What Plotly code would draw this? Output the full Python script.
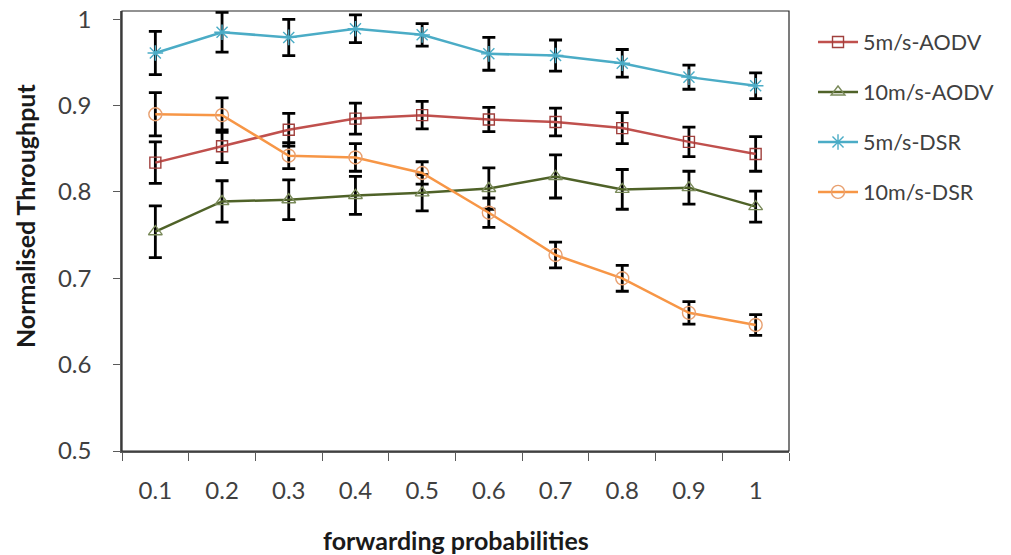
import plotly.graph_objects as go

# Forwarding probability categories
probs = ["0.1", "0.2", "0.3", "0.4", "0.5", "0.6", "0.7", "0.8", "0.9", "1"]

# Normalised throughput per series, with error-bar half widths
aodv5 = [0.834, 0.853, 0.872, 0.885, 0.889, 0.884, 0.881, 0.874, 0.858, 0.844]
aodv5_err = [0.024, 0.019, 0.019, 0.018, 0.016, 0.014, 0.016, 0.018, 0.017, 0.020]

aodv10 = [0.754, 0.789, 0.791, 0.796, 0.799, 0.804, 0.818, 0.803, 0.805, 0.783]
aodv10_err = [0.030, 0.024, 0.023, 0.022, 0.021, 0.024, 0.025, 0.023, 0.019, 0.018]

dsr5 = [0.961, 0.985, 0.979, 0.989, 0.982, 0.960, 0.958, 0.949, 0.933, 0.923]
dsr5_err = [0.025, 0.023, 0.021, 0.016, 0.013, 0.019, 0.018, 0.016, 0.014, 0.015]

dsr10 = [0.890, 0.889, 0.842, 0.840, 0.822, 0.776, 0.727, 0.700, 0.660, 0.646]
dsr10_err = [0.025, 0.020, 0.015, 0.016, 0.013, 0.017, 0.015, 0.015, 0.013, 0.012]

y_ticks = [0.5, 0.6, 0.7, 0.8, 0.9, 1.0]
y_tick_text = ["0.5", "0.6", "0.7", "0.8", "0.9", "1"]

FONT = "Lato, 'Open Sans', sans-serif"
TEXT = "#404040"
AXIS = "#5a5a5a"

series = [
    ("5m/s-AODV", aodv5, aodv5_err, "#C0504D", "#A0403D", "square-open", 11),
    ("10m/s-AODV", aodv10, aodv10_err, "#4F6228", "#7A8A5A", "triangle-up-open", 12),
    ("5m/s-DSR", dsr5, dsr5_err, "#4BACC6", "#4BACC6", "asterisk-open", 13),
    ("10m/s-DSR", dsr10, dsr10_err, "#F79646", "#E8A070", "circle-open", 13),
]

fig = go.Figure()
for i, (name, vals, errs, line_col, mk_col, symbol, size) in enumerate(series):
    fig.add_trace(go.Scatter(
        x=probs,
        y=vals,
        name=name,
        mode="lines+markers",
        legendgroup=f"g{i}",
        line=dict(color=line_col, width=2.5),
        marker=dict(symbol=symbol, size=size, color=mk_col,
                    line=dict(color=mk_col, width=1.4)),
        error_y=dict(type="data", array=errs, visible=True,
                     color="black", thickness=2.8, width=6.5),
        cliponaxis=False,
    ))

# Plot-area frame
fig.add_shape(type="rect", xref="paper", yref="paper", x0=0, y0=0, x1=1, y1=1,
              line=dict(color="#262626", width=1.2), layer="above")

fig.update_layout(
    width=1011,
    height=555,
    margin=dict(l=122, r=222, t=11, b=104, autoexpand=False),
    paper_bgcolor="white",
    plot_bgcolor="white",
    font=dict(family=FONT, color=TEXT, size=21),
    showlegend=True,
    legend=dict(
        x=1.036, y=0.976, xanchor="left", yanchor="top",
        font=dict(family=FONT, size=21.5, color=TEXT),
        traceorder="grouped",
        tracegroupgap=19,
        bgcolor="rgba(0,0,0,0)",
        itemwidth=40,
    ),
    xaxis=dict(
        type="category",
        range=[-0.5, 9.5],
        automargin=False,
        tickson="boundaries",
        ticks="outside",
        ticklen=8,
        tickcolor=AXIS,
        tickwidth=1.3,
        showline=True,
        linecolor=AXIS,
        linewidth=1.5,
        showgrid=False,
        zeroline=False,
        ticklabelstandoff=17,
        tickfont=dict(family=FONT, size=24, color=TEXT),
    ),
    yaxis=dict(
        range=[0.5, 1.0096],
        automargin=False,
        tickvals=y_ticks,
        ticktext=y_tick_text,
        ticks="outside",
        ticklen=7,
        tickcolor=AXIS,
        tickwidth=1.3,
        showline=True,
        linecolor=AXIS,
        linewidth=1.5,
        showgrid=False,
        zeroline=False,
        ticklabelstandoff=17,
        tickfont=dict(family=FONT, size=24, color=TEXT),
    ),
    annotations=[
        dict(text="<b>forwarding probabilities</b>", xref="paper", yref="paper",
             x=0.5007, y=-0.2023, xanchor="center", yanchor="middle",
             showarrow=False, font=dict(family=FONT, size=25, color="#1a1a1a")),
        dict(text="<b>Normalised Throughput</b>", xref="paper", yref="paper",
             x=-0.1454, y=0.534, xanchor="center", yanchor="middle",
             textangle=-90, showarrow=False,
             font=dict(family=FONT, size=25, color="#1a1a1a")),
    ],
)

fig.write_html("out.html")
